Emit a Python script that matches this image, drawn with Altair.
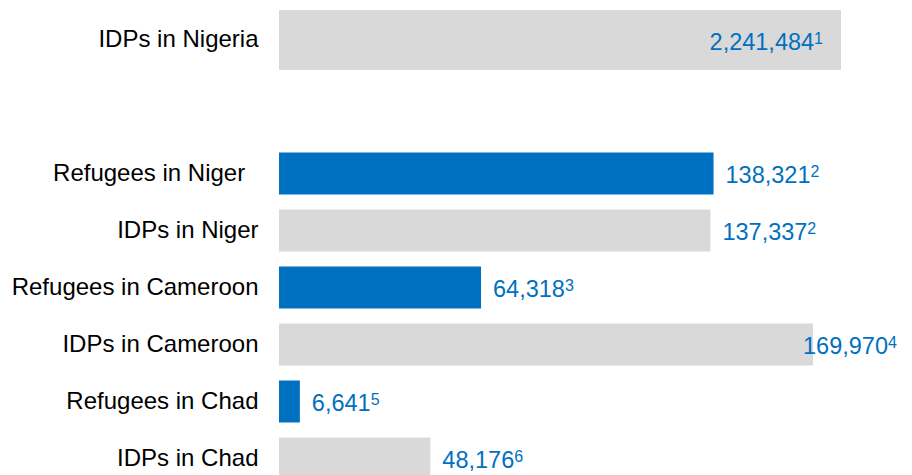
import altair as alt
import pandas as pd

# Top (Nigeria) bar
top_categories = ["IDPs in Nigeria"]
top_kinds = ["IDPs"]
top_values = [2241484]
top_notes = ["1"]

# Lower bars
categories = [
    "Refugees in Niger\u00a0\u00a0\u200b",
    "IDPs in Niger",
    "Refugees in Cameroon",
    "IDPs in Cameroon",
    "Refugees in Chad",
    "IDPs in Chad",
]
kinds = ["Refugees", "IDPs", "Refugees", "IDPs", "Refugees", "IDPs"]
values = [138321, 137337, 64318, 169970, 6641, 48176]
notes = ["2", "2", "3", "4", "5", "6"]

BLUE = "#0070C0"
GRAY = "#D9D9D9"
FONT = "Liberation Sans"
FS = 23.5      # value label font size
SFS = 16       # footnote font size
XMAX = 178900
W = 562

top_df = pd.DataFrame({"cat": top_categories, "kind": top_kinds, "value": top_values,
                       "num": [f"{v:,}" for v in top_values], "note": top_notes})
df = pd.DataFrame({"cat": categories, "kind": kinds, "value": values,
                   "num": [f"{v:,}" for v in values], "note": notes})

clamp_scale = alt.Scale(domain=[0, XMAX], clamp=True, nice=False, zero=True)
free_scale = alt.Scale(domain=[0, XMAX], nice=False, zero=True)
color = alt.Color("kind:N", scale=alt.Scale(domain=["Refugees", "IDPs"], range=[BLUE, GRAY]), legend=None)

yaxis = alt.Axis(title=None, ticks=False, domain=False, grid=False, labelFontSize=24,
                 labelColor="#000000", labelFont=FONT, labelPadding=21, labelLimit=0,
                 minExtent=270.5, maxExtent=270.5)

# top panel
tbase = alt.Chart(top_df).encode(
    y=alt.Y("cat:N", sort=top_categories, axis=yaxis)
)
tbars = tbase.mark_bar(size=60).encode(
    x=alt.X("value:Q", scale=clamp_scale, axis=None), color=color
)
tnum = tbase.mark_text(align="right", baseline="alphabetic", dx=-18 - 0.556 * SFS, dy=9.6,
                       fontSize=FS, font=FONT, color=BLUE).encode(
    x=alt.X("value:Q", scale=clamp_scale, axis=None), text="num:N"
)
tnote = tbase.mark_text(align="right", baseline="alphabetic", dx=-18, dy=3.9,
                        fontSize=SFS, font=FONT, color=BLUE).encode(
    x=alt.X("value:Q", scale=clamp_scale, axis=None), text="note:N"
)
top = (tbars + tnum + tnote).properties(width=W, height=64)

# bottom panel
bbase = alt.Chart(df).encode(
    y=alt.Y("cat:N", sort=categories, axis=yaxis)
)
bbars = bbase.mark_bar(size=42).encode(
    x=alt.X("value:Q", scale=free_scale, axis=None), color=color
)
lab = bbase.transform_calculate(
    pos="min(datum.value, 163000)"
).transform_calculate(
    ncomma="length(datum.num) - length(replace(datum.num, regexp(',', 'g'), ''))"
).transform_calculate(
    spos=f"datum.pos + ((length(datum.num) - datum.ncomma) * 0.556 + datum.ncomma * 0.278) * {FS} * {XMAX} / {W}"
)
bnum = lab.mark_text(align="left", baseline="alphabetic", dx=12, dy=9.6, fontSize=FS,
                     font=FONT, color=BLUE).encode(
    x=alt.X("pos:Q", scale=free_scale, axis=None), text="num:N"
)
bnote = lab.mark_text(align="left", baseline="alphabetic", dx=12, dy=3.9, fontSize=SFS,
                      font=FONT, color=BLUE).encode(
    x=alt.X("spos:Q", scale=free_scale, axis=None), text="note:N"
)
bottom = (bbars + bnum + bnote).properties(width=W, height=alt.Step(57))

chart = alt.vconcat(top, bottom, spacing=73).properties(padding=0).configure_view(
    stroke=None
).resolve_scale(x="independent")

chart.save("out.html", embed_options={"renderer": "svg", "actions": False})
